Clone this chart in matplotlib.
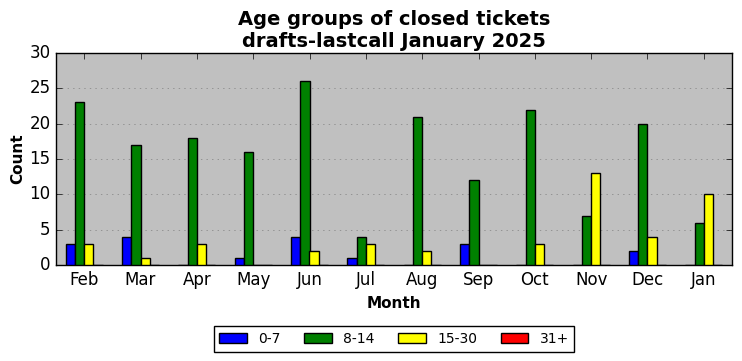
import matplotlib.pyplot as plt
import numpy as np

months = ["Feb", "Mar", "Apr", "May", "Jun", "Jul", "Aug", "Sep", "Oct", "Nov", "Dec", "Jan"]
age_groups = ["0-7", "8-14", "15-30", "31+"]
colors = ["blue", "green", "yellow", "red"]

counts_0_7 = [3, 4, 0, 1, 4, 1, 0, 3, 0, 0, 2, 0]
counts_8_14 = [23, 17, 18, 16, 26, 4, 21, 12, 22, 7, 20, 6]
counts_15_30 = [3, 1, 3, 0, 2, 3, 2, 0, 3, 13, 4, 10]
counts_31 = [0, 0, 0, 0, 0, 0, 0, 0, 0, 0, 0, 0]


def main():
    plt.style.use("classic")
    series = [counts_0_7, counts_8_14, counts_15_30, counts_31]

    fig = plt.figure(figsize=(7.42, 3.61), dpi=100)
    ax = fig.add_axes([56 / 742, 1 - 265 / 361, 676 / 742, 212 / 361])
    ax.set_facecolor("silver")

    x = np.arange(len(months))
    w = 0.165
    for i, (vals, lab, col) in enumerate(zip(series, age_groups, colors)):
        ax.bar(x + (i - 1.5) * w, vals, w, color=col, edgecolor="black",
               linewidth=1, label=lab, align="center", zorder=3)

    ax.set_xlim(-0.5, len(months) - 0.5)
    ax.set_ylim(0, 30)
    ax.set_xticks(x)
    ax.set_xticklabels(months)
    ax.yaxis.grid(True, linestyle=":", color="gray", zorder=0)
    ax.set_axisbelow(True)

    ax.set_title("Age groups of closed tickets\ndrafts-lastcall January 2025",
                 fontsize=14, fontweight="bold", y=0.995)
    ax.set_xlabel("Month", fontsize=11, fontweight="bold")
    ax.set_ylabel("Count", fontsize=11, fontweight="bold", labelpad=3)

    ax.legend(loc="upper center", bbox_to_anchor=(0.5, -0.29), ncol=4,
              fontsize=10, frameon=True, borderaxespad=0, columnspacing=1.7)

    fig.savefig("out.png", dpi=100)


if __name__ == "__main__":
    main()
